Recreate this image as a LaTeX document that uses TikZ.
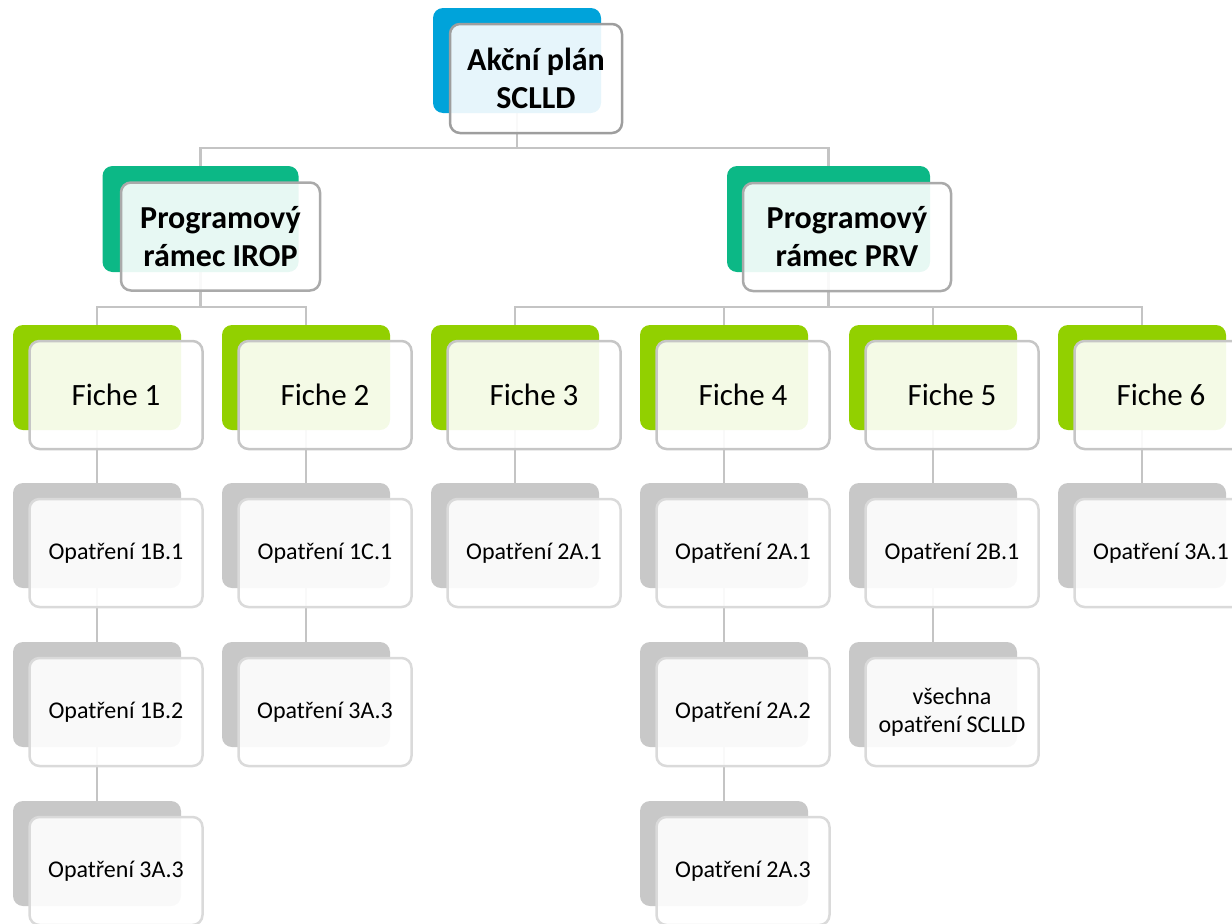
\documentclass[tikz,border=0pt]{standalone}
\usepackage{fontspec}
\setmainfont{Carlito}
\usetikzlibrary{backgrounds}
\definecolor{cblue}{RGB}{0,163,218}
\definecolor{cteal}{RGB}{12,184,134}
\definecolor{clime}{RGB}{146,208,0}
\definecolor{cgray}{RGB}{200,200,200}
\definecolor{lconn}{RGB}{196,196,196}
\definecolor{ltop}{RGB}{158,158,158}
\definecolor{lprog}{RGB}{170,170,170}
\definecolor{lfiche}{RGB}{198,198,198}
\definecolor{lopat}{RGB}{218,218,218}
\tikzset{
  backbox/.style={rounded corners=10pt, inner sep=0pt, minimum width=168pt, minimum height=105pt},
  frontbox/.style={draw, line width=2.5pt, rounded corners=10pt, inner sep=0pt, fill=white,
    fill opacity=0.9, text opacity=1, text=black, align=center, minimum width=173pt, minimum height=108pt},
  topfront/.style={frontbox, draw=ltop, font=\fontsize{32}{38}\selectfont\bfseries},
  progfront/.style={frontbox, draw=lprog, font=\fontsize{32}{38}\selectfont\bfseries},
  fichefront/.style={frontbox, draw=lfiche, font=\fontsize{31}{37}\selectfont},
  opatfront/.style={frontbox, draw=lopat, font=\fontsize{24}{28}\selectfont},
  conn/.style={draw=lconn, line width=2.5pt},
}
\newcommand\fichepair[4]{%
  \node[backbox, fill=clime] (#1b) at (#2,#3) {};
  \node[fichefront] (#1) at (#2+19,#3+17.5) {#4};}
\newcommand\opatpair[4]{%
  \node[backbox, fill=cgray] (#1b) at (#2,#3) {};
  \node[opatfront] (#1) at (#2+19,#3+17.5) {#4};}
\begin{document}
\begin{tikzpicture}[x=1pt,y=-1pt]
\useasboundingbox (0,0) rectangle (1232,924);
% top
\node[backbox, fill=cblue] (topb) at (517,60.5) {};
\node[topfront, minimum width=172pt, minimum height=109pt] (top) at (536,78.5) {Akční plán\\SCLLD};
% programove ramce
\node[backbox, fill=cteal, minimum width=196pt, minimum height=106pt] (iropb) at (200.5,219) {};
\node[progfront, minimum width=199pt, minimum height=108pt] (irop) at (220.5,236.5) {Programový\\rámec IROP};
\node[backbox, fill=cteal, minimum width=203pt, minimum height=106pt] (prvb) at (828.5,219) {};
\node[progfront, minimum width=208pt, minimum height=108pt] (prv) at (847,237) {Programový\\rámec PRV};
% fiches
\fichepair{f1}{97}{377.5}{Fiche 1}
\fichepair{f2}{306}{377.5}{Fiche 2}
\fichepair{f3}{515}{377.5}{Fiche 3}
\fichepair{f4}{724}{377.5}{Fiche 4}
\fichepair{f5}{933}{377.5}{Fiche 5}
\fichepair{f6}{1142}{377.5}{Fiche 6}
% opatreni
\opatpair{o11}{97}{535.5}{Opatření 1B.1}
\opatpair{o12}{97}{694.5}{Opatření 1B.2}
\opatpair{o13}{97}{853.5}{Opatření 3A.3}
\opatpair{o21}{306}{535.5}{Opatření 1C.1}
\opatpair{o22}{306}{694.5}{Opatření 3A.3}
\opatpair{o31}{515}{535.5}{Opatření 2A.1}
\opatpair{o41}{724}{535.5}{Opatření 2A.1}
\opatpair{o42}{724}{694.5}{Opatření 2A.2}
\opatpair{o43}{724}{853.5}{Opatření 2A.3}
\opatpair{o51}{933}{535.5}{Opatření 2B.1}
\opatpair{o52}{933}{694.5}{všechna\\opatření SCLLD}
\opatpair{o61}{1142}{535.5}{Opatření 3A.1}
% connectors
\begin{pgfonlayer}{background}
\coordinate (j0) at (517,148);
\coordinate (j1) at (200.5,307);
\coordinate (j2) at (828.5,307);
\draw[conn] (topb.south) -- (j0) -| (iropb.north);
\draw[conn] (j0) -| (prvb.north);
\draw[conn] (iropb.south) -- (j1) -| (f1b.north);
\draw[conn] (j1) -| (f2b.north);
\draw[conn] (prvb.south) -- (j2) -| (f3b.north);
\draw[conn] (j2) -| (f4b.north);
\draw[conn] (j2) -| (f5b.north);
\draw[conn] (j2) -| (f6b.north);
\draw[conn] (f1b.south) -- (o11b.north) (o11b.south) -- (o12b.north) (o12b.south) -- (o13b.north);
\draw[conn] (f2b.south) -- (o21b.north) (o21b.south) -- (o22b.north);
\draw[conn] (f3b.south) -- (o31b.north);
\draw[conn] (f4b.south) -- (o41b.north) (o41b.south) -- (o42b.north) (o42b.south) -- (o43b.north);
\draw[conn] (f5b.south) -- (o51b.north) (o51b.south) -- (o52b.north);
\draw[conn] (f6b.south) -- (o61b.north);
\end{pgfonlayer}
\end{tikzpicture}
\end{document}
